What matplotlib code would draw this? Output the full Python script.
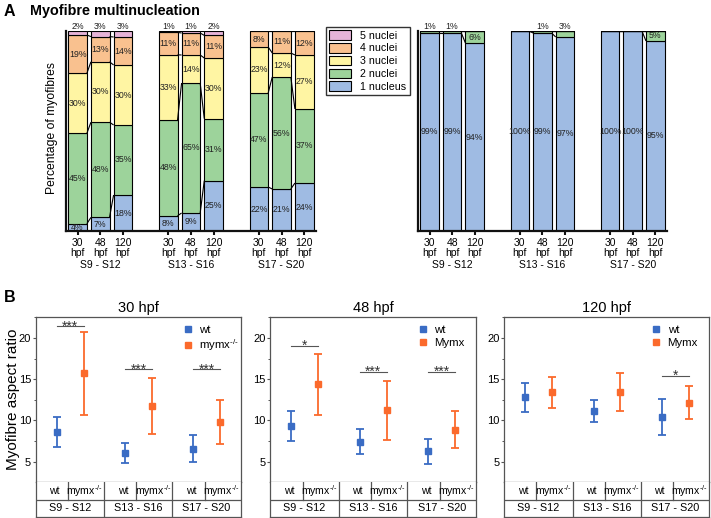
import matplotlib
matplotlib.use('Agg')
import matplotlib.pyplot as plt
from matplotlib.ticker import MultipleLocator
from matplotlib.patches import Patch
from matplotlib.lines import Line2D
from matplotlib.transforms import blended_transform_factory

plt.rcParams['font.family'] = ['Liberation Sans', 'DejaVu Sans']
plt.rcParams['mathtext.fontset'] = 'custom'
plt.rcParams['mathtext.rm'] = 'Liberation Sans'
plt.rcParams['mathtext.it'] = 'Liberation Sans'
plt.rcParams['mathtext.bf'] = 'Liberation Sans:bold'

# ---------------- data: panel A ----------------
stages = ['S9 - S12', 'S13 - S16', 'S17 - S20']
times = ['30\nhpf', '48\nhpf', '120\nhpf']
classes = ['1 nucleus', '2 nuclei', '3 nuclei', '4 nuclei', '5 nuclei']
colors_A = ['#9fbbe3', '#9dd39b', '#fff5a3', '#f9c18f', '#e6b3d8']

# left chart (order: S9-S12 30/48/120, S13-S16 30/48/120, S17-S20 30/48/120)
left_n1 = [3.6, 6.8, 18.0, 7.6, 9.0, 25.2, 22.0, 21.0, 24.0]
left_n2 = [45.2, 47.6, 35.0, 47.8, 65.0, 31.0, 47.0, 56.0, 37.0]
left_n3 = [30.0, 30.2, 30.0, 32.7, 14.0, 30.3, 23.0, 12.0, 27.0]
left_n4 = [19.2, 12.6, 14.0, 11.2, 11.0, 11.3, 8.0, 11.0, 12.0]
left_n5 = [2.0, 2.8, 3.0, 0.7, 1.0, 2.2, 0.0, 0.0, 0.0]

# right chart
right_n1 = [99, 99, 94, 100, 99, 97, 100, 100, 95]
right_n2 = [1, 1, 6, 0, 1, 3, 0, 0, 5]
right_n3 = [0, 0, 0, 0, 0, 0, 0, 0, 0]
right_n4 = [0, 0, 0, 0, 0, 0, 0, 0, 0]
right_n5 = [0, 0, 0, 0, 0, 0, 0, 0, 0]

# ---------------- data: panel B ----------------
titles_B = ['30 hpf', '48 hpf', '120 hpf']
mut_labels = ['mymx$^{\\text{-/-}}$', 'Mymx', 'Mymx']
row_labels = ['wt', 'mymx$^{\\text{-/-}}$']

wt_mean = [[8.59, 6.05, 6.57], [9.31, 7.42, 6.25], [12.78, 11.13, 10.44]]
wt_err = [[1.86, 1.25, 1.64], [1.78, 1.55, 1.53], [1.80, 1.39, 2.18]]
mut_mean = [[15.69, 11.73, 9.76], [14.35, 11.21, 8.87], [13.43, 13.43, 12.14]]
mut_err = [[5.04, 3.37, 2.66], [3.71, 3.57, 2.26], [1.88, 2.26, 1.98]]
sig_text = [['***', '***', '***'], ['*', '***', '***'], ['', '', '*']]
sig_y = [[21.4, 16.2, 16.2], [19.0, 15.9, 15.9], [0, 0, 15.4]]

# ---------------- figure ----------------
W, H = 711, 518
fig = plt.figure(figsize=(W / 100, H / 100), dpi=100)


def rect(x0, y0, x1, y1):
    return [x0 / W, 1 - y1 / H, (x1 - x0) / W, (y1 - y0) / H]


bar_w = 0.82
pos = [g * 4 + i for g in range(3) for i in range(3)]


def stacked(ax, series):
    n = len(pos)
    cum = [[0.0] * n]
    for k, vals in enumerate(series):
        bottoms = cum[-1]
        ax.bar(pos, vals, bottom=bottoms, width=bar_w, color=colors_A[k],
               edgecolor='black', linewidth=0.8, zorder=2)
        cum.append([b + v for b, v in zip(bottoms, vals)])
    # connecting lines within groups
    for g in range(3):
        for i in range(2):
            a = g * 3 + i
            b = a + 1
            for lvl in range(1, len(cum)):
                ax.plot([pos[a] + bar_w / 2, pos[b] - bar_w / 2],
                        [cum[lvl][a], cum[lvl][b]], color='black', lw=0.8,
                        zorder=3, solid_capstyle='butt')
    # labels
    for j in range(n):
        nz = [k for k in range(len(series)) if series[k][j] > 0]
        top = nz[-1]
        for k in nz:
            v = series[k][j]
            txt = f'{round(v)}%'
            if k == top and v < 4.5 and k > 0:
                ax.text(pos[j], 102.4, txt, ha='center', va='center',
                        fontsize=6.3, color='#222222', clip_on=False)
            else:
                ax.text(pos[j], cum[k][j] + v / 2, txt, ha='center',
                        va='center', fontsize=6.3, color='#222222', zorder=4)
    ax.set_xlim(-0.51, 10.52)
    ax.set_ylim(0, 100)
    ax.set_yticks([])
    for s in ['top', 'right']:
        ax.spines[s].set_visible(False)
    for s in ['left', 'bottom']:
        ax.spines[s].set_linewidth(1.6)
        ax.spines[s].set_color('#111111')
    ax.set_xticks(pos)
    ax.set_xticklabels(times * 3, fontsize=7.5, linespacing=1.0)
    ax.tick_params(axis='x', length=3, width=1.5, pad=2, color='#111111')
    tr = blended_transform_factory(ax.transData, ax.transAxes)
    for g in range(3):
        ax.text(g * 4 + 1, -0.17, stages[g], transform=tr, ha='center',
                va='center', fontsize=7.5)


axL = fig.add_axes(rect(66, 31, 316, 231))
stacked(axL, [left_n1, left_n2, left_n3, left_n4, left_n5])
axR = fig.add_axes(rect(418, 31, 667, 231))
stacked(axR, [right_n1, right_n2, right_n3, right_n4, right_n5])

fig.text(52 / W, 1 - 128 / H, 'Percentage of myofibres', rotation=90,
         ha='center', va='center', fontsize=8.7)
fig.text(4 / W, 1 - 11 / H, 'A', fontsize=11.5, fontweight='bold',
         ha='left', va='center')
fig.text(30 / W, 1 - 11 / H, 'Myofibre multinucleation', fontsize=10.4,
         fontweight='bold', ha='left', va='center')

handles = [Patch(facecolor=colors_A[k], edgecolor='black', linewidth=0.8)
           for k in range(4, -1, -1)]
labels = [classes[k] for k in range(4, -1, -1)]
leg = fig.legend(handles, labels, loc='upper left',
                 bbox_to_anchor=(326 / W, 1 - 27 / H), fontsize=7.7,
                 frameon=True, fancybox=False, edgecolor='black',
                 handlelength=2.0, handleheight=1.0, handletextpad=0.9,
                 labelspacing=0.22, borderpad=0.3, borderaxespad=0)
leg.get_frame().set_linewidth(1.0)

# ---------------- panel B ----------------
c_wt = '#3a6cc4'
c_mut = '#fb6a2c'
frame_c = '#555555'
ax_x = [(36, 240.7), (270.3, 476), (504.3, 709.3)]
for p in range(3):
    x0, x1 = ax_x[p]
    ax = fig.add_axes(rect(x0, 317.3, x1, 481.7))
    xw = [g * 3 + 0.92 for g in range(3)]
    xm = [g * 3 + 2.09 for g in range(3)]
    ax.errorbar(xw, wt_mean[p], yerr=wt_err[p], fmt='s', color=c_wt,
                ms=5, capsize=3, elinewidth=1.3, capthick=1.3, zorder=3)
    ax.errorbar(xm, mut_mean[p], yerr=mut_err[p], fmt='s', color=c_mut,
                ms=5, capsize=3, elinewidth=1.3, capthick=1.3, zorder=3)
    for g in range(3):
        if sig_text[p][g]:
            ax.plot([xw[g], xm[g]], [sig_y[p][g]] * 2, color=frame_c, lw=0.8)
            ax.text((xw[g] + xm[g]) / 2, sig_y[p][g] - 0.5, sig_text[p][g],
                    ha='center', va='baseline', fontsize=10, color='#333333')
    ax.set_xlim(0, 9)
    ax.set_ylim(2.55, 22.5)
    ax.set_xticks([])
    ax.yaxis.set_major_locator(MultipleLocator(5))
    ax.yaxis.set_minor_locator(MultipleLocator(2.5))
    ax.tick_params(axis='y', which='major', length=2.5, width=0.8,
                   color=frame_c, labelsize=8, pad=1)
    ax.tick_params(axis='y', which='minor', length=1.5, width=0.7,
                   color=frame_c)
    for s in ax.spines.values():
        s.set_color(frame_c)
        s.set_linewidth(0.9)
    ax.set_title(titles_B[p], fontsize=10.5, pad=4)
    lh = [Line2D([], [], marker='s', ls='none', color=c_wt, ms=4),
          Line2D([], [], marker='s', ls='none', color=c_mut, ms=4)]
    ax.legend(lh, ['wt', mut_labels[p]], loc='upper left',
              bbox_to_anchor=(0.68, 1.0), frameon=False, fontsize=8.2,
              handlelength=0.8, handletextpad=0.6, labelspacing=0.2,
              borderpad=0.2)

    # table below
    tb = fig.add_axes(rect(x0, 481.7, x1, 516.7))
    tb.set_xlim(0, 9)
    tb.set_ylim(0, 1)
    tb.set_xticks([])
    tb.set_yticks([])
    for s in ['left', 'right', 'bottom']:
        tb.spines[s].set_color(frame_c)
        tb.spines[s].set_linewidth(0.9)
    tb.spines['top'].set_visible(False)
    yb = 0.477
    tb.plot([0, 9], [yb, yb], color=frame_c, lw=0.9)
    for g in range(3):
        split = g * 3 + 1.41
        tb.plot([split, split], [yb, 1], color=frame_c, lw=0.9)
        if g > 0:
            tb.plot([g * 3, g * 3], [0, 1], color=frame_c, lw=0.9)
        tb.text(xw[g] - 0.1, 0.74, row_labels[0], ha='center', va='center',
                fontsize=7.6)
        tb.text(xm[g] + 0.05, 0.74, row_labels[1], ha='center', va='center',
                fontsize=7.6)
        tb.text(g * 3 + 1.5, 0.24, stages[g], ha='center', va='center',
                fontsize=7.8)

fig.text(13 / W, 1 - 399 / H, 'Myofibre aspect ratio', rotation=90,
         ha='center', va='center', fontsize=11)
fig.text(4 / W, 1 - 297 / H, 'B', fontsize=11.5, fontweight='bold',
         ha='left', va='center')

fig.savefig('out.png', dpi=100)
